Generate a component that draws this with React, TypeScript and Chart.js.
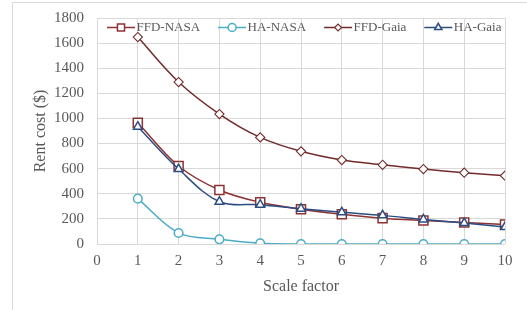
import React, { useEffect, useRef } from "react";
import { Chart, registerables } from "chart.js";

Chart.register(...registerables);

const scaleFactors = [1, 2, 3, 4, 5, 6, 7, 8, 9, 10];
const ffdNasa = [966, 621, 430, 332, 277, 237, 206, 187, 171, 155];
const haNasa = [361, 88, 37, 6, 0, 0, 0, 0, 0, 0];
const ffdGaia = [1648, 1290, 1035, 849, 738, 669, 631, 597, 568, 544];
const haGaia = [934, 597, 337, 313, 281, 252, 228, 196, 167, 135];

const seriesNames = ["FFD-NASA", "HA-NASA", "FFD-Gaia", "HA-Gaia"];
const seriesColors = ["#8B3333", "#4BACC6", "#722B2B", "#2C4D82"];
const seriesMarkers = ["rect", "circle", "rectRot", "triangle"];
const seriesRadius = [6.4, 4.3, 4.6, 5];
const seriesPointBorder = [1.5, 1.5, 1.1, 1.5];
const legendRadius = [5, 4, 3.4, 4.2];

const FONT = "'Liberation Serif', 'Times New Roman', serif";
const TXT = "#595959";
const GRID = "#d9d9d9";

function drawMarker(ctx: CanvasRenderingContext2D, style: string, x: number, y: number, r: number, color: string, lw: number) {
  ctx.save();
  ctx.strokeStyle = color;
  ctx.fillStyle = "#ffffff";
  ctx.lineWidth = lw;
  ctx.beginPath();
  if (style === "rect") {
    const s = Math.SQRT1_2 * r;
    ctx.rect(x - s, y - s, 2 * s, 2 * s);
  } else if (style === "circle") {
    ctx.arc(x, y, r, 0, Math.PI * 2);
  } else if (style === "rectRot") {
    ctx.moveTo(x - r, y);
    ctx.lineTo(x, y - r);
    ctx.lineTo(x + r, y);
    ctx.lineTo(x, y + r);
    ctx.closePath();
  } else {
    const hw = r * Math.sin(Math.PI / 3);
    ctx.moveTo(x, y - r);
    ctx.lineTo(x + hw, y + r / 2);
    ctx.lineTo(x - hw, y + r / 2);
    ctx.closePath();
  }
  ctx.fill();
  ctx.stroke();
  ctx.restore();
}

const legendPlugin = {
  id: "excelLegend",
  afterDraw(chart: any) {
    const ctx = chart.ctx;
    const area = chart.chartArea;
    ctx.save();
    ctx.font = `13px ${FONT}`;
    ctx.textBaseline = "middle";
    ctx.textAlign = "left";
    let x = area.left + 10;
    const y = area.top + 9.5;
    seriesNames.forEach((name, i) => {
      const color = seriesColors[i];
      ctx.strokeStyle = color;
      ctx.lineWidth = 1.5;
      ctx.beginPath();
      ctx.moveTo(x, y);
      ctx.lineTo(x + 28, y);
      ctx.stroke();
      drawMarker(ctx, seriesMarkers[i], x + 14, y, legendRadius[i], color, seriesPointBorder[i]);
      ctx.fillStyle = TXT;
      ctx.fillText(name, x + 29.5, y + 0.5);
      const w = ctx.measureText(name).width;
      x += 29.5 + w + 18;
    });
    ctx.restore();
  },
};

export default function App() {
  const ref = useRef<HTMLCanvasElement>(null);
  useEffect(() => {
    if (!ref.current) return;
    const allData = [ffdNasa, haNasa, ffdGaia, haGaia];
    const chart = new Chart(ref.current, {
      type: "line",
      data: {
        datasets: allData.map((vals, i) => ({
          label: seriesNames[i],
          data: scaleFactors.map((x, j) => ({ x, y: vals[j] })),
          borderColor: seriesColors[i],
          backgroundColor: "#ffffff",
          borderWidth: 1.5,
          pointStyle: seriesMarkers[i] as any,
          pointRadius: seriesRadius[i],
          pointBorderWidth: seriesPointBorder[i],
          pointBorderColor: seriesColors[i],
          pointBackgroundColor: "#ffffff",
          tension: 0.35,
          fill: false,
          order: 3 - i,
        })),
      },
      options: {
        animation: false,
        responsive: false,
        maintainAspectRatio: false,
        layout: { padding: { left: 0, right: 22, top: 18, bottom: 0 } },
        plugins: { legend: { display: false }, tooltip: { enabled: false } },
        scales: {
          x: {
            type: "linear",
            min: 0,
            max: 10,
            ticks: { stepSize: 1, color: TXT, font: { family: FONT, size: 15 }, padding: 8 },
            grid: { color: GRID, drawTicks: false, lineWidth: 1 },
            border: { display: false },
            title: {
              display: true,
              text: "Scale factor",
              color: TXT,
              font: { family: FONT, size: 16 },
              padding: { top: 0, bottom: 14 },
            },
            afterFit: (s: any) => {
              s.height = 66;
            },
          },
          y: {
            min: 0,
            max: 1800,
            ticks: {
              stepSize: 200,
              color: TXT,
              font: { family: FONT, size: 15 },
              padding: 13,
              callback: (v: any) => String(v),
            },
            grid: { color: GRID, drawTicks: false, lineWidth: 1 },
            border: { display: false },
            title: {
              display: true,
              text: "Rent cost ($)",
              color: TXT,
              font: { family: FONT, size: 16 },
              padding: { top: 31, bottom: 0 },
            },
            afterFit: (s: any) => {
              s.width = 97;
              s.paddingTop = 0;
              s.paddingBottom = 0;
            },
          },
        },
      },
      plugins: [legendPlugin],
    });
    return () => chart.destroy();
  }, []);

  return (
    <div
      style={{
        position: "fixed",
        left: 0,
        top: 0,
        width: 527,
        height: 310,
        overflow: "hidden",
        background: "#fff",
      }}
    >
      <div
        style={{
          position: "absolute",
          left: 12,
          top: 2,
          width: 600,
          height: 400,
          border: "1px solid #d9d9d9",
        }}
      />
      <canvas ref={ref} width={527} height={310} style={{ position: "absolute", left: 0, top: 0 }} />
    </div>
  );
}
